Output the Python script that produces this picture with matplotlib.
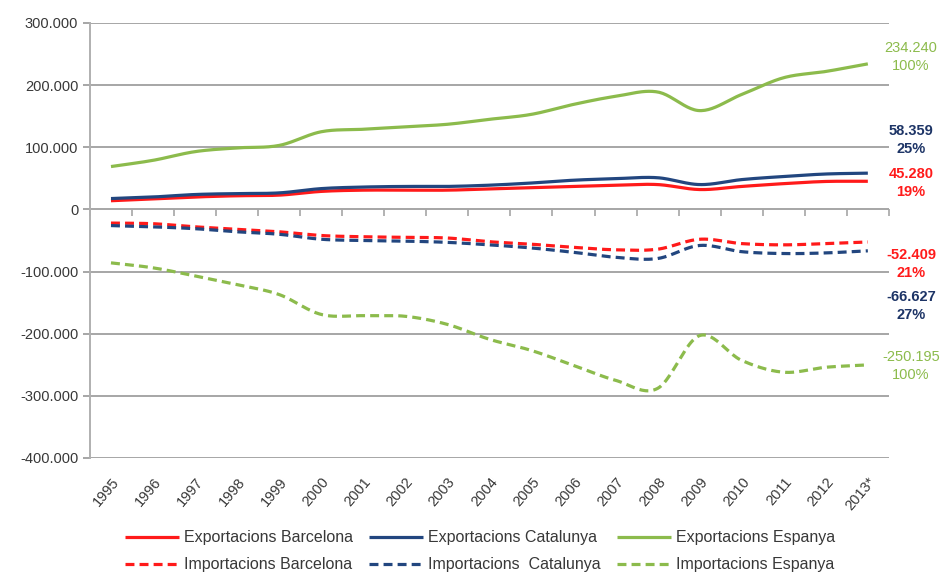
import numpy as np
import matplotlib.pyplot as plt
from matplotlib.ticker import FuncFormatter

plt.rcParams["font.family"] = ["Liberation Sans", "DejaVu Sans"]

years = ["1995", "1996", "1997", "1998", "1999", "2000", "2001", "2002", "2003",
         "2004", "2005", "2006", "2007", "2008", "2009", "2010", "2011", "2012", "2013*"]

# milions d'euros
exp_bcn = [14000, 17000, 20000, 22000, 23000, 29000, 31000, 31000, 31000, 33000,
           35000, 37000, 39000, 40000, 32000, 37000, 41500, 45000, 45280]
exp_cat = [17500, 20000, 24000, 25500, 26600, 33500, 36000, 37000, 37000, 39000,
           42500, 47000, 49500, 51000, 40000, 48000, 53000, 57000, 58359]
exp_esp = [69000, 79000, 93000, 99000, 103000, 125000, 129000, 133000, 137000, 145000,
           153000, 169000, 182000, 189000, 159000, 185000, 212000, 222000, 234240]
imp_bcn = [-22000, -23000, -28000, -32000, -36000, -42000, -44000, -45000, -46000, -52000,
           -56000, -61000, -65000, -64000, -48000, -55000, -57000, -55000, -52409]
imp_cat = [-26000, -28000, -31000, -36000, -40000, -48000, -50000, -51000, -53000, -57000,
           -62000, -69000, -77000, -79000, -58000, -68000, -71000, -70000, -66627]
imp_esp = [-86000, -94000, -107000, -121000, -137000, -169000, -171000, -172000, -185000, -209000,
           -227000, -251000, -275000, -288000, -203000, -243000, -262000, -254000, -250195]

labels_exp = ["Exportacions Barcelona", "Exportacions Catalunya", "Exportacions Espanya"]
labels_imp = ["Importacions Barcelona", "Importacions  Catalunya", "Importacions Espanya"]
shares_exp = ["19%", "25%", "100%"]
shares_imp = ["21%", "27%", "100%"]

RED = "#ff1a1a"
NAVY = "#22467f"
GREEN = "#8cbb4c"
NAVY_TXT = "#1d3466"


def smooth(y, n=24):
    # catmull-rom curve through the yearly points (excel-style smoothed line)
    y = np.asarray(y, dtype=float)
    x = np.arange(len(y), dtype=float)
    px = np.concatenate([[2 * x[0] - x[1]], x, [2 * x[-1] - x[-2]]])
    py = np.concatenate([[2 * y[0] - y[1]], y, [2 * y[-1] - y[-2]]])
    xs, ys = [], []
    t = np.linspace(0, 1, n, endpoint=False)
    for i in range(1, len(px) - 2):
        for p, out in ((px, xs), (py, ys)):
            p0, p1, p2, p3 = p[i - 1], p[i], p[i + 1], p[i + 2]
            out.append(0.5 * (2 * p1 + (-p0 + p2) * t
                              + (2 * p0 - 5 * p1 + 4 * p2 - p3) * t ** 2
                              + (-p0 + 3 * p1 - 3 * p2 + p3) * t ** 3))
    xs.append([x[-1]])
    ys.append([y[-1]])
    return np.concatenate(xs), np.concatenate(ys)


def fmt(v):
    return f"{int(v):,}".replace(",", ".")


fig = plt.figure(figsize=(9.41, 5.75), dpi=100)
ax = fig.add_axes([0.0956, 0.2035, 0.849, 0.7565])

lw = 2.3
dash = (0, (2.8, 1.6))
handles = []
for ev, iv, c, le, li in zip([exp_bcn, exp_cat, exp_esp], [imp_bcn, imp_cat, imp_esp],
                             [RED, NAVY, GREEN], labels_exp, labels_imp):
    sx, sy = smooth(ev)
    h1, = ax.plot(sx, sy, color=c, lw=lw, label=le, solid_capstyle="butt")
    sx, sy = smooth(iv)
    h2, = ax.plot(sx, sy, color=c, lw=lw, ls=dash, label=li, dash_capstyle="butt")
    handles += [h1, h2]

ax.set_xlim(-0.5, len(years) - 0.5)
ax.set_ylim(-400000, 300000)
ax.set_yticks(np.arange(-400000, 300001, 100000))
ax.yaxis.set_major_formatter(FuncFormatter(lambda v, p: fmt(v)))
ax.grid(axis="y", color="#a6a6a6", lw=1.4)
ax.set_axisbelow(True)
for s in ["top", "right", "bottom"]:
    ax.spines[s].set_visible(False)
ax.spines["left"].set_color("#b0b0b0")
ax.spines["left"].set_linewidth(1.4)
ax.tick_params(axis="y", colors="#a6a6a6", width=1.4, length=5, labelcolor="#383838",
               labelsize=10.5)
ax.set_xticks(range(len(years)))
ax.set_xticklabels(years, rotation=50, ha="right", rotation_mode="anchor",
                   fontsize=10.5, color="#383838")
ax.tick_params(axis="x", length=0, pad=12)

# category axis drawn at zero with ticks between years
zero = ax.secondary_xaxis(4 / 7)
zero.set_xticks(np.arange(-0.5, len(years), 1.0))
zero.tick_params(axis="x", direction="out", length=5, width=1.2, colors="#a6a6a6",
                 labelbottom=False, labeltop=False, bottom=True, top=False)
zero.spines["bottom"].set_color("#a6a6a6")
zero.spines["bottom"].set_linewidth(1.4)
zero.spines["top"].set_visible(False)

# value and share labels for the last year (vertical nudge in points)
last = len(years) - 1
end_labels = [(exp_esp, shares_exp[2], GREEN, 5),
              (exp_cat, shares_exp[1], NAVY_TXT, 24),
              (exp_bcn, shares_exp[0], RED, -1),
              (imp_bcn, shares_imp[0], RED, -16),
              (imp_cat, shares_imp[1], NAVY_TXT, -40),
              (imp_esp, shares_imp[2], GREEN, -1)]
for vals, share, c, dy in end_labels:
    v = vals[last]
    weight = "normal" if c == GREEN else "bold"
    ax.annotate(fmt(v) + "\n" + share, (last, v), xytext=(31, dy),
                textcoords="offset points", ha="center", va="center", color=c,
                fontsize=10.5, fontweight=weight, linespacing=1.35,
                annotation_clip=False)

fig.legend(handles=handles, loc="lower center", bbox_to_anchor=(0.51, -0.02), ncol=3,
           frameon=False, fontsize=11.5, handlelength=3.4, handletextpad=0.3,
           columnspacing=1.0, labelspacing=0.75, labelcolor="#383838")

fig.savefig("out.png", dpi=100)
